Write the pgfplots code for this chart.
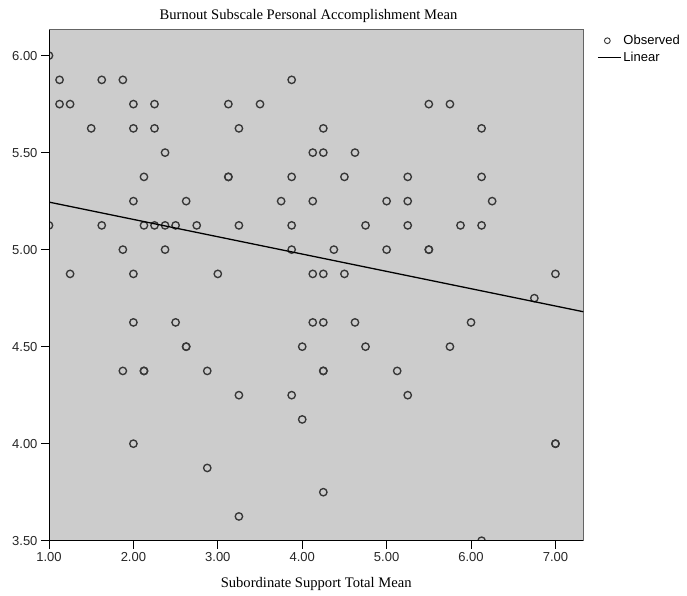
\documentclass[border=0pt]{standalone}
\usepackage{fontspec}
\setmainfont{Liberation Serif}
\setsansfont{Liberation Sans}
\usepackage{pgfplots}
\pgfplotsset{compat=1.18}
\definecolor{bggray}{RGB}{204,204,204}
\definecolor{markgray}{RGB}{55,55,55}
\definecolor{framegray}{RGB}{100,100,100}
\begin{document}
\begin{tikzpicture}
\begin{axis}[
  scale only axis,
  width=534.3pt, height=510.7pt,
  xmin=1, xmax=7.33, ymin=3.5, ymax=6.132,
  xtick={1,2,3,4,5,6,7},
  ytick={3.5,4,4.5,5,5.5,6},
  xtick pos=bottom, ytick pos=left,
  tick align=outside,
  major tick length=8pt,
  tick style={black, line width=1pt},
  /pgf/number format/.cd, fixed, fixed zerofill, precision=2, assume math mode=true,
  /pgfplots/.cd,
  ticklabel style={font=\sffamily\fontsize{13}{15}\selectfont, text=black!85},
  axis background/.style={fill=bggray},
  axis line style={draw=framegray, line width=1pt},
  title={Burnout Subscale Personal Accomplishment Mean},
  title style={font=\fontsize{14.6}{17}\selectfont, at={(0.4857,1.0093)}, anchor=base},
  xlabel={Subordinate Support Total Mean},
  xlabel style={font=\fontsize{14.6}{17}\selectfont, at={(0.5,-0.0907)}, anchor=base},
  clip marker paths=true,
  legend style={at={(1.0256,0.994)}, anchor=north west, draw=none, fill=none,
    font=\sffamily\fontsize{13}{15}\selectfont, inner sep=0pt, row sep=2pt,
    nodes={inner sep=2pt}},
  legend cell align=left,
]
\coordinate (sw) at (rel axis cs:0,0);
\addplot[only marks, mark=o, mark size=3.7pt, draw=markgray,
  mark options={draw=markgray, line width=1.35pt},
  legend image code/.code={\draw[markgray, line width=0.9pt] (9.5pt,0pt) circle (2.9pt);}]
  table {
x y
1.0 6.0
1.125 5.875
1.625 5.875
1.875 5.875
3.875 5.875
1.125 5.75
1.25 5.75
2.0 5.75
2.25 5.75
3.125 5.75
3.5 5.75
5.5 5.75
5.75 5.75
1.5 5.625
2.0 5.625
2.25 5.625
3.25 5.625
4.25 5.625
6.125 5.625
2.375 5.5
4.125 5.5
4.25 5.5
4.625 5.5
2.125 5.375
3.125 5.375
3.125 5.375
3.875 5.375
4.5 5.375
5.25 5.375
6.125 5.375
2.0 5.25
2.625 5.25
3.75 5.25
4.125 5.25
5.0 5.25
5.25 5.25
6.25 5.25
1.0 5.125
1.625 5.125
2.125 5.125
2.25 5.125
2.375 5.125
2.5 5.125
2.75 5.125
3.25 5.125
3.875 5.125
4.75 5.125
5.25 5.125
5.875 5.125
6.125 5.125
1.875 5.0
2.375 5.0
3.875 5.0
4.375 5.0
5.0 5.0
5.5 5.0
5.5 5.0
1.25 4.875
2.0 4.875
3.0 4.875
4.125 4.875
4.25 4.875
4.5 4.875
7.0 4.875
6.75 4.75
2.0 4.625
2.5 4.625
4.125 4.625
4.25 4.625
4.625 4.625
6.0 4.625
2.625 4.5
2.625 4.5
4.0 4.5
4.75 4.5
5.75 4.5
1.875 4.375
2.125 4.375
2.125 4.375
2.875 4.375
4.25 4.375
4.25 4.375
5.125 4.375
3.25 4.25
3.875 4.25
5.25 4.25
4.0 4.125
2.0 4.0
7.0 4.0
7.0 4.0
2.875 3.875
4.25 3.75
3.25 3.625
6.125 3.5
};
\addlegendentry{Observed}
\addplot[black, line width=1.3pt, no marks,
  legend image code/.code={\draw[black, line width=1.3pt] (0pt,0pt) -- (23pt,0pt);}]
  coordinates {(1,5.245) (7.33,4.68)};
\addlegendentry{Linear}
\draw[black, line width=1.3pt] (rel axis cs:0,1) -- (rel axis cs:0,0) -- (rel axis cs:1,0);
\end{axis}
\pgfresetboundingbox
\path[use as bounding box] ([shift={(-49pt,-55.3pt)}]sw) rectangle ++(687pt,596pt);
\end{tikzpicture}
\end{document}
